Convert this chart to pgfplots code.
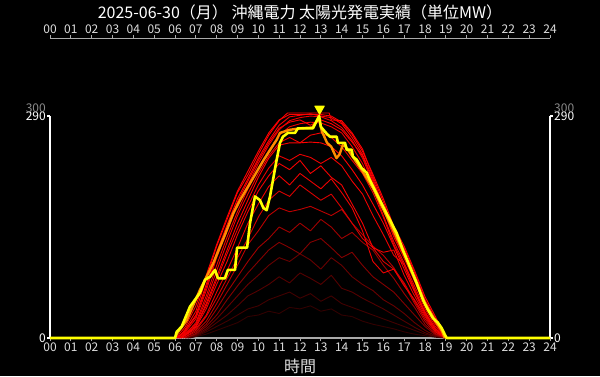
\documentclass[border=0pt]{standalone}
\usepackage{fontspec}
\setmainfont{Noto Sans CJK JP}
\usepackage{pgfplots}
\pgfplotsset{compat=1.18}
\definecolor{ticktxt}{HTML}{DDDDDD}
\definecolor{axgray}{HTML}{AAAAAA}
\definecolor{lbgray}{HTML}{8A8A8A}
\definecolor{cyel}{HTML}{FFFF00}
\definecolor{corg}{HTML}{FF8C00}
\definecolor{rA}{HTML}{FF0000}
\definecolor{rB}{HTML}{F00000}
\definecolor{rC}{HTML}{F40000}
\definecolor{rD}{HTML}{EE0000}
\definecolor{rE}{HTML}{D80000}
\definecolor{rF}{HTML}{BC0000}
\definecolor{rG}{HTML}{A00000}
\definecolor{rH}{HTML}{840000}
\definecolor{rI}{HTML}{680000}
\definecolor{rJ}{HTML}{540000}
\definecolor{rK}{HTML}{420000}
\definecolor{rL}{HTML}{320000}
\begin{document}
\begin{tikzpicture}
\useasboundingbox (0pt,0pt) rectangle (600pt,376pt);
\fill[black] (0pt,0pt) rectangle (600pt,376pt);
\node[text=white, font=\fontsize{16}{16}\selectfont] at (300pt,364pt) {2025-06-30（月） 沖縄電力 太陽光発電実績（単位MW）};
\begin{axis}[
  at={(50pt,38pt)}, anchor=origin,
  scale only axis, width=500pt, height=300pt,
  xmin=0, xmax=24, ymin=0, ymax=392,
  axis line style={draw=none},
  xtick={0,...,24},
  xticklabels={00,01,02,03,04,05,06,07,08,09,10,11,12,13,14,15,16,17,18,19,20,21,22,23,24},
  xtick pos=upper, xticklabel pos=upper,
  ytick={0,290}, yticklabels={0,290},
  ytick pos=right, yticklabel pos=right,
  extra y ticks={300}, extra y tick labels={300},
  extra y tick style={tick style={draw=none}, yticklabel style={text=lbgray}},
  tick align=outside, major tick length=3pt,
  x tick style={axgray, line width=1pt},
  y tick style={white, line width=1.5pt},
  xticklabel style={font=\fontsize{12}{12}\selectfont, text=ticktxt, inner sep=1.5pt},
  yticklabel style={font=\fontsize{12}{12}\selectfont, text=white, inner sep=1pt},
]
\addplot[draw=none] coordinates {(0,0)};
\draw[axgray, line width=1.5pt] (axis cs:0,392) -- (axis cs:24,392);
\end{axis}
\begin{axis}[
  at={(50pt,38pt)}, anchor=origin,
  scale only axis, width=500pt, height=229.6pt,
  xmin=0, xmax=24, ymin=0, ymax=300,
  clip=false,
  axis line style={draw=none},
  xtick={0,...,24},
  xticklabels={00,01,02,03,04,05,06,07,08,09,10,11,12,13,14,15,16,17,18,19,20,21,22,23,24},
  xtick pos=lower, xticklabel pos=lower,
  ytick={0,290}, yticklabels={0,290},
  ytick pos=left, yticklabel pos=left,
  extra y ticks={300}, extra y tick labels={300},
  extra y tick style={tick style={draw=none}, yticklabel style={text=lbgray}},
  tick align=outside, major tick length=3pt,
  x tick style={axgray, line width=1pt},
  y tick style={white, line width=1.5pt},
  xticklabel style={font=\fontsize{12}{12}\selectfont, text=ticktxt, inner sep=1.5pt},
  yticklabel style={font=\fontsize{12}{12}\selectfont, text=white, inner sep=1pt},
  xlabel={時間},
  xlabel style={font=\fontsize{16}{16}\selectfont, text=ticktxt, inner sep=0pt, yshift=-6pt},
  every axis plot/.append style={line join=round, line width=0.9pt},
]
\draw[axgray, line width=1.5pt] (axis cs:0,0) -- (axis cs:24,0);
\draw[white, line width=1.8pt] (axis cs:0,0) -- (axis cs:0,290);
\draw[white, line width=1.8pt] (axis cs:24,0) -- (axis cs:24,290);
% darkest / lowest days
\addplot[rL] coordinates {(6.7,0)(7.5,5)(8,10)(8.5,15)(9,20)(9.5,28)(10,30)(10.5,35)(11,32)(11.5,40)(12,38)(12.5,42)(13,35)(13.5,38)(14,30)(14.5,28)(15,22)(15.5,18)(16,15)(16.5,12)(17,8)(17.5,5)(18,3)(18.5,1)(19,0)};
\addplot[rK] coordinates {(6.6,0)(7,2)(7.5,8)(8,15)(8.5,22)(9,30)(9.5,38)(10,42)(10.5,50)(11,55)(11.5,60)(12,52)(12.5,58)(13,48)(13.5,55)(14,45)(14.5,40)(15,35)(15.5,30)(16,25)(16.5,20)(17,15)(17.5,10)(18,5)(18.5,2)(19,0)};
\addplot[rJ] coordinates {(6.6,0)(7,3)(7.5,10)(8,20)(8.5,30)(9,42)(9.5,55)(10,62)(10.5,70)(11,80)(11.5,72)(12,85)(12.5,78)(13,70)(13.5,82)(14,65)(14.5,60)(15,52)(15.5,45)(16,38)(16.5,30)(17,22)(17.5,14)(18,7)(18.5,2)(19,0)};
\addplot[rI] coordinates {(6.5,0)(7,4)(7.5,12)(8,25)(8.5,40)(9,55)(9.5,70)(10,82)(10.5,95)(11,105)(11.5,100)(12,110)(12.5,102)(13,90)(13.5,105)(14,95)(14.5,80)(15,70)(15.5,62)(16,50)(16.5,42)(17,32)(17.5,20)(18,10)(18.5,3)(19,0)};
\addplot[rH] coordinates {(6.5,0)(7,5)(7.5,15)(8,30)(8.5,50)(9,68)(9.5,85)(10,100)(10.5,115)(11,125)(11.5,118)(12,110)(12.5,125)(13,130)(13.5,118)(14,105)(14.5,112)(15,95)(15.5,80)(16,70)(16.5,60)(17,45)(17.5,30)(18,15)(18.5,4)(19,0)};
\addplot[rG] coordinates {(6.5,0)(7,6)(7.5,18)(8,38)(8.5,60)(9,80)(9.5,100)(10,118)(10.5,130)(11,145)(11.5,138)(12,150)(12.5,140)(13,155)(13.5,145)(14,130)(14.5,138)(15,125)(15.5,115)(16,95)(16.5,78)(17,58)(17.5,40)(18,18)(18.5,5)(19,0)};
\addplot[rF] coordinates {(6.4,0)(7,8)(7.5,22)(8,45)(8.5,70)(9,95)(9.5,122)(10,140)(10.5,160)(11,170)(11.5,165)(12,168)(12.5,172)(13,166)(13.5,160)(14,168)(14.5,150)(15,135)(15.5,120)(16,108)(16.5,92)(17,70)(17.5,45)(18,22)(18.5,6)(19,0)};
\addplot[rE] coordinates {(6.4,0)(7,10)(7.5,28)(8,52)(8.5,78)(9,105)(9.5,130)(10,158)(10.5,180)(11,192)(11.5,185)(12,200)(12.5,190)(13,180)(13.5,188)(14,170)(14.5,150)(15,130)(15.5,118)(16,100)(16.5,90)(17,72)(17.5,48)(18,25)(18.5,8)(19,0)};
\addplot[rD] coordinates {(6.3,0)(7,12)(7.5,30)(8,60)(8.5,88)(9,118)(9.5,150)(10,175)(10.5,198)(11,212)(11.5,200)(12,215)(12.5,205)(13,195)(13.5,208)(14,190)(14.5,170)(15,140)(15.5,100)(16,85)(16.5,90)(17,68)(17.5,50)(18,28)(18.5,8)(19,0)};
\addplot[rC] coordinates {(6.3,0)(7,14)(7.5,38)(8,70)(8.5,100)(9,135)(9.5,165)(10,192)(10.5,212)(11,228)(11.5,220)(12,232)(12.5,215)(13,225)(13.5,210)(14,200)(14.5,175)(15,150)(15.5,118)(16,112)(16.5,115)(17,82)(17.5,55)(18,30)(18.5,10)(19,0)};
\addplot[rA] coordinates {(6.3,0)(7,15)(7.5,45)(8,80)(8.5,115)(9,150)(9.5,180)(10,210)(10.5,235)(11,252)(11.5,255)(12,255)(12.5,256)(13,255)(13.5,250)(14,238)(14.5,220)(15,200)(15.5,175)(16,150)(16.5,120)(17,90)(17.5,60)(18,32)(18.5,12)(19,0)};
\addplot[rD] coordinates {(6.25,0)(7,16)(7.5,42)(8,76)(8.5,110)(9,142)(9.5,172)(10,200)(10.5,222)(11,238)(11.5,232)(12,240)(12.5,236)(13,228)(13.5,236)(14,225)(14.5,205)(15,188)(15.5,160)(16,135)(16.5,108)(17,96)(17.5,64)(18,34)(18.5,12)(19,0)};
\addplot[rC] coordinates {(6.2,0)(7,18)(7.5,50)(8,88)(8.5,125)(9,160)(9.5,188)(10,215)(10.5,238)(11,255)(11.5,262)(12,255)(12.5,265)(13,268)(13.5,262)(14,250)(14.5,232)(15,215)(15.5,190)(16,158)(16.5,122)(17,95)(17.5,62)(18,34)(18.5,12)(19,0)};
\addplot[rB] coordinates {(6.2,0)(6.5,5)(7,20)(7.5,55)(8,95)(8.5,132)(9,165)(9.5,195)(10,222)(10.5,245)(11,265)(11.5,276)(12,280)(12.5,282)(13,281)(13.5,276)(14,268)(14.5,250)(15,228)(15.5,196)(16,160)(16.5,126)(17,98)(17.5,68)(18,38)(18.5,15)(19,0)};
\addplot[rA] coordinates {(6.15,0)(6.5,10)(7,28)(7.5,66)(8,108)(8.5,145)(9,178)(9.5,205)(10,232)(10.5,255)(11,274)(11.5,282)(12,285)(12.5,278)(13,285)(13.5,280)(14,272)(14.5,256)(15,238)(15.5,205)(16,170)(16.5,135)(17,107)(17.5,77)(18,45)(18.5,20)(19,0)};
\addplot[rB] coordinates {(6.1,0)(6.5,8)(7,25)(7.5,62)(8,105)(8.5,140)(9,175)(9.5,200)(10,228)(10.5,252)(11,272)(11.5,284)(12,288)(12.5,290)(13,289)(13.5,284)(14,275)(14.5,258)(15,235)(15.5,202)(16,168)(16.5,132)(17,104)(17.5,74)(18,42)(18.5,18)(19,0)};
\addplot[rA] coordinates {(6.1,0)(6.5,10)(7,30)(7.5,70)(8,112)(8.5,148)(9,182)(9.5,208)(10,235)(10.5,258)(11,278)(11.5,289)(12,291)(12.5,293)(13,290)(13.5,288)(14,280)(14.5,262)(15,240)(15.5,208)(16,172)(16.5,138)(17,110)(17.5,80)(18,47)(18.5,22)(19,0)};
\addplot[rA] coordinates {(6.05,0)(6.5,15)(7,42)(7.5,82)(8,122)(8.5,158)(9,192)(9.5,218)(10,244)(10.5,268)(11,285)(11.5,292)(12,292)(12.5,292)(13,292)(13.5,290)(14,282)(14.5,266)(15,244)(15.5,214)(16,182)(16.5,146)(17,120)(17.5,88)(18,54)(18.5,28)(19,0)};
\addplot[rA] coordinates {(6.0,0)(6.3,5)(6.5,12)(7,35)(7.5,78)(8,120)(8.5,155)(9,190)(9.5,213)(10,240)(10.5,265)(11,284)(11.4,294)(12,294)(13,294)(13.4,294)(13.5,285)(14,284)(14.5,268)(15,247)(15.5,211)(16,178)(16.5,142)(17,117)(17.5,85)(18,50)(18.5,25)(18.8,13)(19,0)};
% yesterday (orange)
\addplot[corg, line width=2.4pt] coordinates {(6.0,0)(6.1,6)(6.56,23)(7.2,63)(7.84,98)(8.4,135)(8.8,163)(9.12,180)(9.6,202)(10.24,232)(10.88,259)(11.04,268)(11.5,272)(12.0,274)(12.6,275)(12.9,288)(13.05,270)(13.3,255)(13.5,250)(13.75,235)(13.9,240)(14.05,252)(14.2,250)(14.5,238)(15,218)(15.5,196)(16,168)(16.5,140)(17,110)(17.5,78)(18,45)(18.5,22)(18.8,10)(18.95,0)};
% today (yellow)
\addplot[cyel, line width=2.6pt] coordinates {(0,0)(6.0,0)(6.08,8)(6.32,15)(6.72,41)(7.2,59)(7.44,76)(7.68,80)(7.92,89)(8.06,78)(8.4,78)(8.54,89)(8.88,89)(8.98,118)(9.46,118)(9.6,150)(9.84,185)(10.08,180)(10.24,170)(10.4,167)(10.56,185)(10.7,206)(10.88,233)(11.04,255)(11.18,263)(11.42,268)(11.76,268)(11.9,274)(12.62,274)(12.92,290)(13.0,276)(13.28,267)(13.44,263)(13.76,263)(13.82,255)(14.16,255)(14.24,246)(14.48,246)(14.54,237)(14.72,233)(14.96,222)(15.2,216)(15.36,206)(15.6,193)(15.84,180)(16.08,167)(16.32,154)(16.64,137)(16.94,115)(17.28,93)(17.6,72)(17.9,50)(18.14,37)(18.38,26)(18.62,20)(18.8,13)(18.96,4)(19.04,0)(24,0)};
\addplot[only marks, mark=triangle*, mark size=5.5pt, color=cyel, mark options={rotate=180, fill=cyel, draw=cyel}] coordinates {(12.94,299.5)};
\end{axis}
\end{tikzpicture}
\end{document}
